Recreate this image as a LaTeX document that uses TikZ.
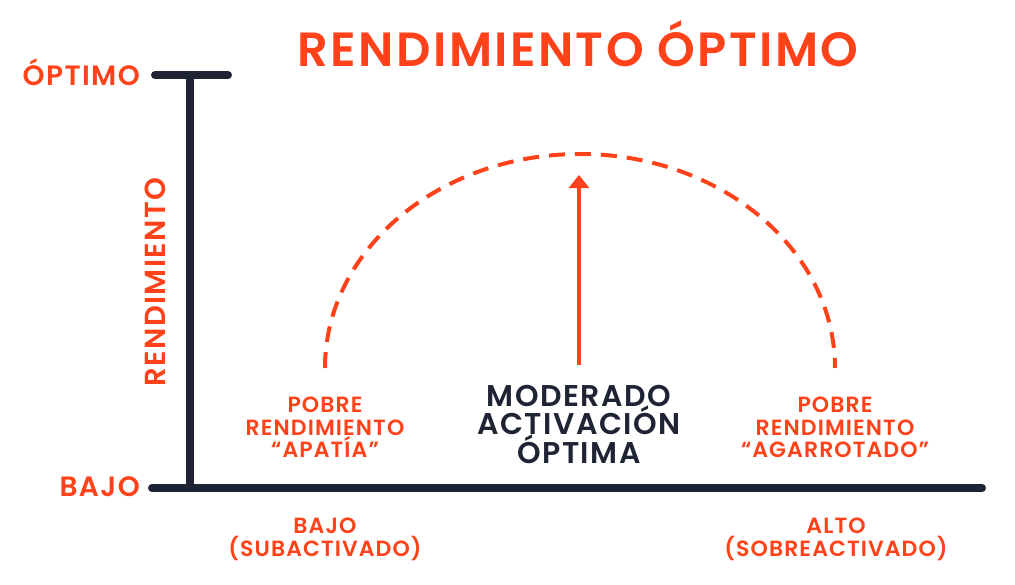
\documentclass[tikz,border=0pt]{standalone}
\usepackage{fontspec}
\setmainfont{Poppins}[BoldFont={* SemiBold},LetterSpace=5]
\newfontfamily\titlefont{Poppins}[UprightFont={* SemiBold},LetterSpace=5]
\usetikzlibrary{arrows.meta}
\definecolor{myred}{HTML}{FF4219}
\definecolor{mynavy}{HTML}{1E2433}
\lineskiplimit=-100pt

\begin{document}
\begin{tikzpicture}[x=1pt,y=-1pt,
  axis line/.style={draw=mynavy,line width=8pt,line cap=round},
  curve line/.style={draw=myred,line width=4pt,dash pattern=on 16pt off 10pt},
  peak arrow/.style={draw=myred,line width=3.2pt,-{Triangle[width=20pt,length=13pt]}},
  red label/.style={text=myred,inner sep=0pt,align=center,
    font=\bfseries\fontsize{22}{22.5}\selectfont},
  axis label/.style={text=myred,inner sep=0pt,font=\bfseries\fontsize{28}{30}\selectfont},
  dark label/.style={text=mynavy,inner sep=0pt,align=center,
    font=\bfseries\fontsize{30}{28.5}\selectfont}]

\useasboundingbox (0,0) rectangle (1015,584);

% title
\node[text=myred,inner sep=0pt,anchor=base,font=\titlefont\fontsize{48}{50}\selectfont]
  (title) at (578,66) {RENDIMIENTO ÓPTIMO};

% axes
\coordinate (origin) at (190,488);
\coordinate (ytop) at (190,75);
\coordinate (capleft) at (155,75);
\coordinate (capright) at (228,75);
\coordinate (xleft) at (152,488);
\coordinate (xright) at (982,488);
\draw[axis line] (capleft) -- (capright);
\draw[axis line] (ytop) -- (origin);
\draw[axis line] (xleft) -- (xright);

\node[axis label,anchor=base east] (optimo) at (140,85) {ÓPTIMO};
\node[axis label,anchor=base east] (bajo) at (140,496) {BAJO};
\node[axis label,rotate=90,anchor=center,font=\bfseries\fontsize{29}{30}\selectfont]
  (rendimiento) at (155,282) {RENDIMIENTO};

% curve
\coordinate (curveleft) at (325,368);
\coordinate (peak) at (579,175);
\draw[curve line] (curveleft) arc[start angle=180,end angle=0,x radius=255pt,y radius=214pt];

% labels
\node[red label,anchor=north] (apatia) at (325,397)
  {POBRE\\RENDIMIENTO\\“APATÍA”};
\node[red label,anchor=north] (agarrotado) at (835,397)
  {POBRE\\RENDIMIENTO\\“AGARROTADO”};
\node[dark label,anchor=north] (moderado) at (579,385)
  {MODERADO\\ACTIVACIÓN\\ÓPTIMA};
\node[red label,anchor=north] (subactivado) at (325,518)
  {BAJO\\(SUBACTIVADO)};
\node[red label,anchor=north] (sobreactivado) at (836,518)
  {ALTO\\(SOBREACTIVADO)};

\coordinate (arrowfoot) at (579,365);
\draw[peak arrow] (arrowfoot) -- (peak);
\end{tikzpicture}
\end{document}
